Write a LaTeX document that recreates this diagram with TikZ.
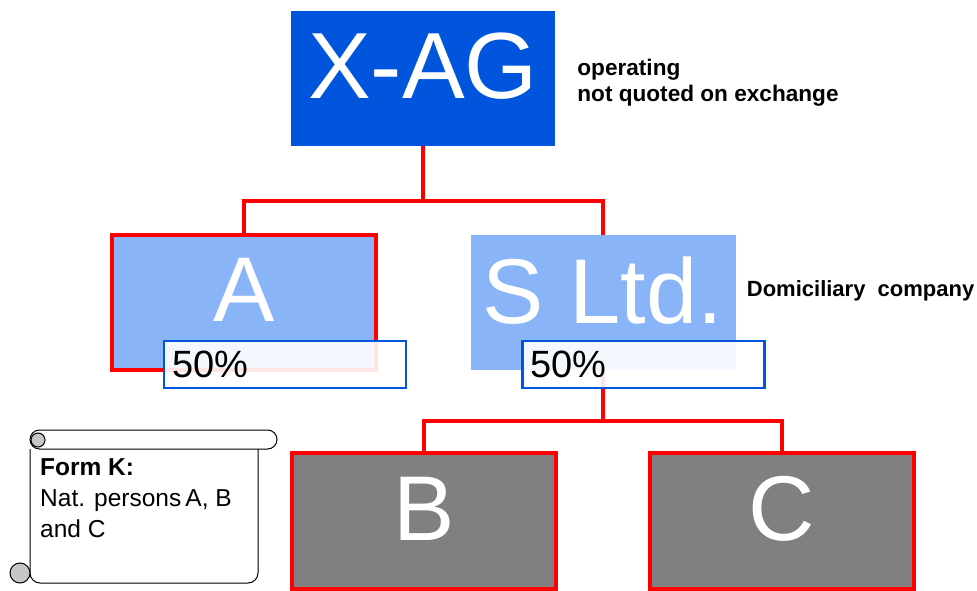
\documentclass[tikz,border=0pt]{standalone}
\usepackage{fontspec}
\setmainfont{Liberation Sans}
\usetikzlibrary{positioning}
\definecolor{agblue}{RGB}{0,85,221}
\definecolor{ltdblue}{RGB}{138,180,248}
\definecolor{kgray}{RGB}{128,128,128}

\begin{document}
\begin{tikzpicture}[x=1pt, y=-1pt,
  big/.style={text=white, font=\fontsize{92}{92}\selectfont, text depth=25pt, inner sep=0pt},
  firm/.style={big, draw=red, line width=4.5pt, minimum width=264pt, minimum height=135pt},
  share/.style={draw=agblue, line width=2.5pt, fill=white, fill opacity=.9, text opacity=1,
    text width=226pt, inner xsep=8pt, inner ysep=0pt, minimum height=47pt, align=left,
    font=\fontsize{38}{38}\selectfont},
  note/.style={font=\fontsize{22.6}{26}\selectfont\bfseries, align=left, inner sep=0pt},
  link/.style={draw=red, line width=4pt}]
  \useasboundingbox (0,0) rectangle (977,591);

  \node [big, fill=agblue, minimum width=264pt, minimum height=135pt, font=\fontsize{94}{94}\selectfont] (xag) at (423,78.5) {X-AG};
  \node [note, right=22pt of xag, yshift=-4pt] (xaglabel) {operating\\not quoted on exchange};

  \node [firm, fill=ltdblue] (a) at (244,302.5) {A};
  \node [big, fill=ltdblue, minimum width=265pt, minimum height=135pt] (s) at (603,302.5) {S Ltd.};
  \node [note, right=11pt of s, yshift=12pt, font=\fontsize{22}{26}\selectfont\bfseries] (slabel) {Domiciliary~~company};

  \node [firm, fill=kgray, minimum height=136pt] (b) at (424,521) {B};
  \node [firm, fill=kgray, minimum height=136pt] (c) at (782,521) {C};

  \coordinate (up) at (423,201);
  \coordinate (down) at (603,421);
  \draw [link] (xag) -- (up) -| (a);
  \draw [link] (up) -| (s);
  \draw [link] (s) -- (down) -| (b);
  \draw [link] (down) -| (c);

  \node [share] (pa) at (285,364.5) {50\%};
  \node [share] (ps) at (643.5,364.5) {50\%};

  \draw [fill=white, line width=1pt, rounded corners=10pt] (30,449) -- (30,583) -- (258,583) -- (258,449);
  \draw [fill=white, line width=1pt, rounded corners=9.5pt] (30,430) rectangle (277,449);
  \draw [fill=gray!45, line width=1pt] (38,440) circle [radius=7pt];
  \draw [fill=gray!45, line width=1pt] (20,573) circle [radius=10pt];
  \node [anchor=north west, align=left, inner sep=0pt, font=\fontsize{24.5}{31}\selectfont] (form) at (40,458)
    {\textbf{Form K:}\\Nat. persons\,A, B\\and C};
\end{tikzpicture}
\end{document}
